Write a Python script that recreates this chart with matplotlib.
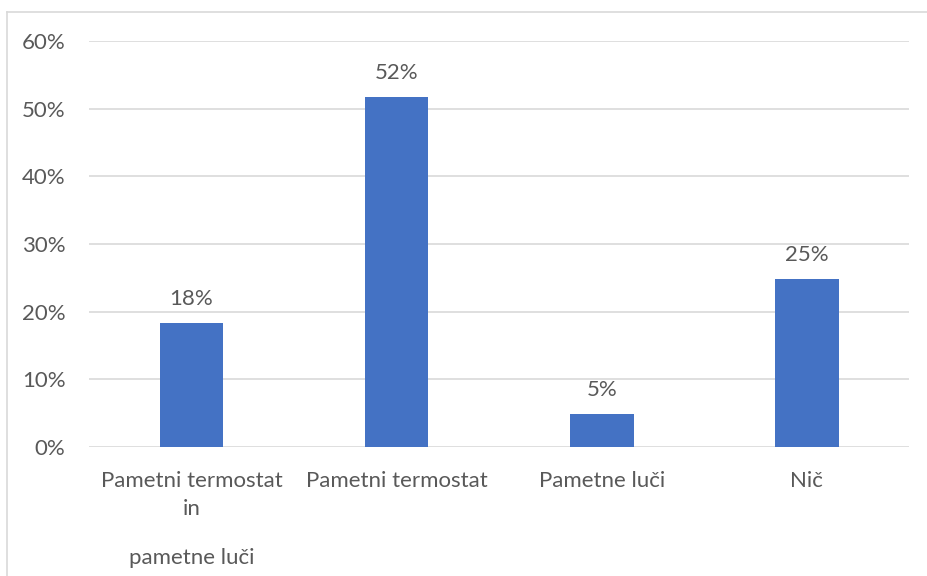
import matplotlib.pyplot as plt
from matplotlib.lines import Line2D
from matplotlib.ticker import PercentFormatter

categories = ["Pametni termostat\nin", "Pametni termostat", "Pametne luči", "Nič"]
extra_line = "pametne luči"
shares = [0.183, 0.517, 0.049, 0.248]
y_ticks = [0.0, 0.1, 0.2, 0.3, 0.4, 0.5, 0.6]

bar_color = "#4472C4"
text_color = "#595959"
grid_color = "#D9D9D9"
fs = 16

plt.rcParams['font.family'] = ['Lato', 'DejaVu Sans']

fig = plt.figure(figsize=(9.27, 5.76), dpi=100)
ax = fig.add_axes([0.096, 0.224, 0.885, 0.705])

x = range(len(categories))
bars = ax.bar(x, shares, width=0.31, color=bar_color, zorder=3)

for b, v in zip(bars, shares):
    ax.annotate(f"{v:.0%}", (b.get_x() + b.get_width() / 2, v),
                xytext=(0, 10), textcoords="offset points",
                ha="center", va="bottom", fontsize=fs, color=text_color)

ax.set_xlim(-0.5, len(categories) - 0.5)
ax.set_ylim(0, 0.6)
ax.set_yticks(y_ticks)
ax.yaxis.set_major_formatter(PercentFormatter(1.0, decimals=0))
ax.set_xticks(list(x))
ax.set_xticklabels(categories, linespacing=1.55)
ax.tick_params(axis="y", length=0, pad=17, labelsize=fs, labelcolor=text_color)
ax.tick_params(axis="x", length=0, pad=17, labelsize=fs, labelcolor=text_color)
ax.grid(axis="y", color=grid_color, linewidth=1.2, zorder=0)
for s in ax.spines.values():
    s.set_visible(False)

# second part of the first category label, set lower down
ax.annotate(extra_line, (0, 0), xycoords=("data", "axes fraction"),
            xytext=(0, -72.5), textcoords="offset points",
            ha="center", va="top", fontsize=fs, color=text_color)

# chart border (left and top edges)
fig.add_artist(Line2D([7.5 / 927, 7.5 / 927], [0, 1 - 12 / 576],
                      transform=fig.transFigure, color=grid_color, lw=1.2))
fig.add_artist(Line2D([7.5 / 927, 1], [1 - 12 / 576, 1 - 12 / 576],
                      transform=fig.transFigure, color=grid_color, lw=1.2))

fig.savefig("out.png", dpi=100, facecolor="white")
